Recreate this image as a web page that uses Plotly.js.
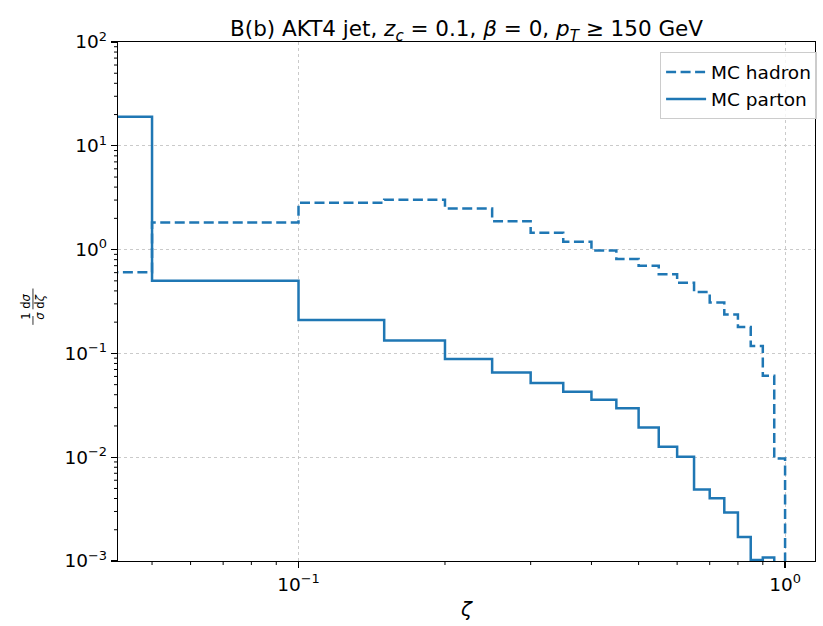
<!DOCTYPE html>
<html>
<head>
<meta charset="utf-8">
<script src="https://cdn.plot.ly/plotly-3.0.1.min.js"></script>
<style>html,body{margin:0;padding:0;background:#fff;}#chart{width:823px;height:626px;}</style>
</head>
<body>
<div id="chart"></div>
<script>
// Bin edges in zeta (first bin starts at 0)
const binEdges = [0.0, 0.05, 0.1, 0.15, 0.2, 0.25, 0.3, 0.35, 0.4, 0.45, 0.5,
                  0.55, 0.6, 0.65, 0.7, 0.75, 0.8, 0.85, 0.9, 0.95, 1.0];
// 1/sigma dsigma/dzeta, MC hadron
const hadronValues = [0.605, 1.82, 2.82, 3.02, 2.49, 1.88, 1.45, 1.19, 0.98, 0.81,
                      0.70, 0.58, 0.48, 0.39, 0.31, 0.237, 0.18, 0.118, 0.061, 0.0097];
// 1/sigma dsigma/dzeta, MC parton
const partonValues = [19.0, 0.50, 0.21, 0.133, 0.0883, 0.0656, 0.0518, 0.0427, 0.0357, 0.0297,
                      0.0193, 0.0126, 0.0101, 0.00488, 0.00402, 0.00294, 0.0017, 0.00102, 0.00108, 0];
const seriesNames = ["MC hadron", "MC parton"];
const xTickVals = [0.1, 1];
const xTickText = ["10<sup>\u22121</sup>", "10<sup>0</sup>"];
const yTickVals = [1e-3, 1e-2, 1e-1, 1, 10, 100];
const yTickText = ["10<sup>\u22123</sup>", "10<sup>\u22122</sup>", "10<sup>\u22121</sup>",
                   "10<sup>0</sup>", "10<sup>1</sup>", "10<sup>2</sup>"];

const FLOOR = 1e-7;      // stand-in for zero on a log axis
const LEFT_START = 1e-3; // stand-in for the zero edge on a log axis
const X_RANGE = [-1.371, 0.0615];
const Y_RANGE = [-3, 2];
const W = 823, H = 626;
const M = {l: 118, r: 6, t: 42, b: 65};

// minor log ticks (2..9 times each decade), as fractions along the axis
function minorTickFractions(dLo, dHi, range) {
  const out = [];
  for (let d = dLo; d <= dHi; d++) for (let m = 2; m <= 9; m++) {
    const lv = Math.log10(m * Math.pow(10, d));
    if (lv > range[0] && lv < range[1]) out.push((lv - range[0]) / (range[1] - range[0]));
  }
  return out;
}

function stepTrace(values, name, dash) {
  const xs = [], ys = [];
  for (let i = 0; i < values.length; i++) {
    xs.push(binEdges[i] > 0 ? binEdges[i] : LEFT_START);
    ys.push(values[i] > 0 ? values[i] : FLOOR);
  }
  const last = binEdges[binEdges.length - 1];
  xs.push(last); ys.push(ys[ys.length - 1]);
  xs.push(last); ys.push(FLOOR);
  return {
    x: xs, y: ys, name: name, type: 'scatter', mode: 'lines',
    line: {shape: 'hv', color: '#1f77b4', width: 2.5, dash: dash},
    hoverinfo: 'skip'
  };
}

const data = [
  stepTrace(hadronValues, seriesNames[0], '10px,4.5px'),
  stepTrace(partonValues, seriesNames[1], 'solid')
];

const axisCommon = {
  showline: true, mirror: true, linecolor: '#000', linewidth: 1.3,
  ticks: 'outside', ticklen: 6, tickwidth: 1.2, tickcolor: '#000',
  showgrid: true, gridcolor: '#c4c4c4', gridwidth: 0.9, griddash: 'dot',
  zeroline: false, tickmode: 'array',
  tickfont: {family: 'DejaVu Sans', size: 18.5, color: '#000'}
};

// minor tick marks as small axis decorations (all in paper units)
const MINOR_LEN = 4;
const plotW = W - M.l - M.r, plotH = H - M.t - M.b;
const minorShapes = [];
minorTickFractions(-2, 0, X_RANGE).forEach(f => minorShapes.push({
  type: 'line', xref: 'paper', yref: 'paper',
  x0: f, x1: f, y0: 0, y1: -MINOR_LEN / plotH,
  line: {color: '#000', width: 1}, layer: 'above'
}));
minorTickFractions(-3, 1, Y_RANGE).forEach(f => minorShapes.push({
  type: 'line', xref: 'paper', yref: 'paper',
  x0: 0, x1: -MINOR_LEN / plotW, y0: f, y1: f,
  line: {color: '#000', width: 1}, layer: 'above'
}));

const layout = {
  width: W, height: H,
  margin: M,
  paper_bgcolor: '#fff', plot_bgcolor: '#fff',
  font: {family: 'DejaVu Sans', color: '#000'},
  title: {
    text: 'B(b) AKT4 jet, <i>z</i><sub><i>c</i></sub> = 0.1, <i>\u03b2</i> = 0, <i>p</i><sub><i>T</i></sub> \u2265 150 GeV',
    font: {family: 'DejaVu Sans', size: 21.5, color: '#000'},
    x: 0.5, xref: 'paper', xanchor: 'center', y: 1, yref: 'paper', yanchor: 'bottom',
    pad: {b: 6}
  },
  xaxis: Object.assign({}, axisCommon, {
    type: 'log', range: X_RANGE,
    tickvals: xTickVals, ticktext: xTickText,
    title: {text: '<i>\u03b6</i>', font: {family: 'DejaVu Sans', size: 20, color: '#000'}, standoff: 8}
  }),
  yaxis: Object.assign({}, axisCommon, {
    type: 'log', range: Y_RANGE,
    tickvals: yTickVals, ticktext: yTickText
  }),
  legend: {
    x: 1.003, y: 0.98, xanchor: 'right', yanchor: 'top',
    bgcolor: 'rgba(255,255,255,0.8)', bordercolor: '#cccccc', borderwidth: 1,
    font: {family: 'DejaVu Sans', size: 18.5, color: '#000'},
    itemwidth: 40, tracegroupgap: 2
  },
  showlegend: true,
  annotations: [
    {xref: 'paper', yref: 'paper', x: -0.132, y: 0.49, xanchor: 'center', yanchor: 'middle',
     textangle: -90, showarrow: false,
     text: '1 d<i>\u03c3</i>', font: {family: 'DejaVu Sans', size: 11.5, color: '#000'}},
    {xref: 'paper', yref: 'paper', x: -0.112, y: 0.49, xanchor: 'center', yanchor: 'middle',
     textangle: -90, showarrow: false,
     text: '<i>\u03c3</i> d<i>\u03b6</i>', font: {family: 'DejaVu Sans', size: 11.5, color: '#000'}}
  ],
  shapes: [
    {type: 'line', xref: 'paper', yref: 'paper', x0: -0.122, x1: -0.122, y0: 0.455, y1: 0.472, line: {color: '#000', width: 0.8}},
    {type: 'line', xref: 'paper', yref: 'paper', x0: -0.122, x1: -0.122, y0: 0.485, y1: 0.525, line: {color: '#000', width: 0.8}}
  ].concat(minorShapes)
};

Plotly.newPlot('chart', data, layout, {displayModeBar: false, staticPlot: true});
</script>
</body>
</html>
